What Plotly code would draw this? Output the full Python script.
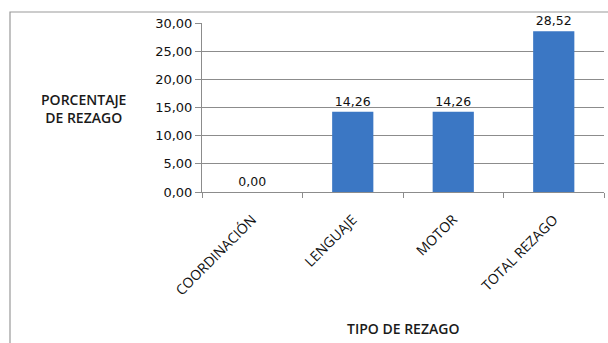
import plotly.graph_objects as go

categories = ["COORDINACIÓN", "LENGUAJE", "MOTOR", "TOTAL REZAGO"]
values = [0.00, 14.26, 14.26, 28.52]
labels = ["0,00", "14,26", "14,26", "28,52"]
y_ticks = [0, 5, 10, 15, 20, 25, 30]

W, H = 608, 343
ML, MR, MT, MB = 202, 4, 23, 151
pw = W - ML - MR
ph = H - MT - MB

fig = go.Figure()
fig.add_trace(go.Bar(
    x=categories, y=values,
    text=labels, textposition="outside", cliponaxis=False,
    constraintext="none",
    textfont=dict(family="DejaVu Sans", size=12.5, color="#111111"),
    marker=dict(color="#3B77C4", line=dict(color="#1F4C88", width=0)),
    width=0.41,
))

fig.update_layout(
    width=W, height=H,
    margin=dict(l=ML, r=MR, t=MT, b=MB, pad=0),
    paper_bgcolor="white", plot_bgcolor="white",
    separators=",.",
    showlegend=False,
    xaxis=dict(
        type="category",
        showgrid=False, showline=True, linecolor="#8C8C8C", linewidth=1,
        ticks="outside", tickson="boundaries", ticklen=5, tickcolor="#8C8C8C",
        tickangle=-45, ticklabelstandoff=13,
        tickfont=dict(family="Open Sans", size=14, color="#111111"),
        automargin=False,
    ),
    yaxis=dict(
        range=[0, 30], tickvals=y_ticks, tickformat=".2f",
        showgrid=True, gridcolor="#8C8C8C", gridwidth=1,
        showline=True, linecolor="#8C8C8C", linewidth=1,
        ticks="outside", ticklen=6, tickcolor="#8C8C8C",
        tickfont=dict(family="DejaVu Sans", size=13, color="#111111"),
        zeroline=False, automargin=False,
    ),
    annotations=[
        dict(
            text="PORCENTAJE<br>DE REZAGO", xref="paper", yref="paper",
            x=(83 - ML) / pw, y=(MT + ph - 109) / ph,
            xanchor="center", yanchor="middle", showarrow=False, align="center",
            font=dict(family="Open Sans", size=14, color="#1a1a1a", weight=600),
        ),
        dict(
            text="TIPO DE REZAGO", xref="paper", yref="paper",
            x=0.5, y=(MT + ph - 328) / ph,
            xanchor="center", yanchor="middle", showarrow=False,
            font=dict(family="Open Sans", size=14, color="#1a1a1a", weight=600),
        ),
    ],
    shapes=[dict(
        type="rect", xref="paper", yref="paper",
        x0=(10 - ML) / pw, x1=(W + 20 - ML) / pw,
        y0=-2.0, y1=(MT + ph - 12) / ph,
        line=dict(color="#999999", width=1.2), fillcolor="rgba(0,0,0,0)",
        layer="below",
    )],
)

fig.write_html("out.html")
